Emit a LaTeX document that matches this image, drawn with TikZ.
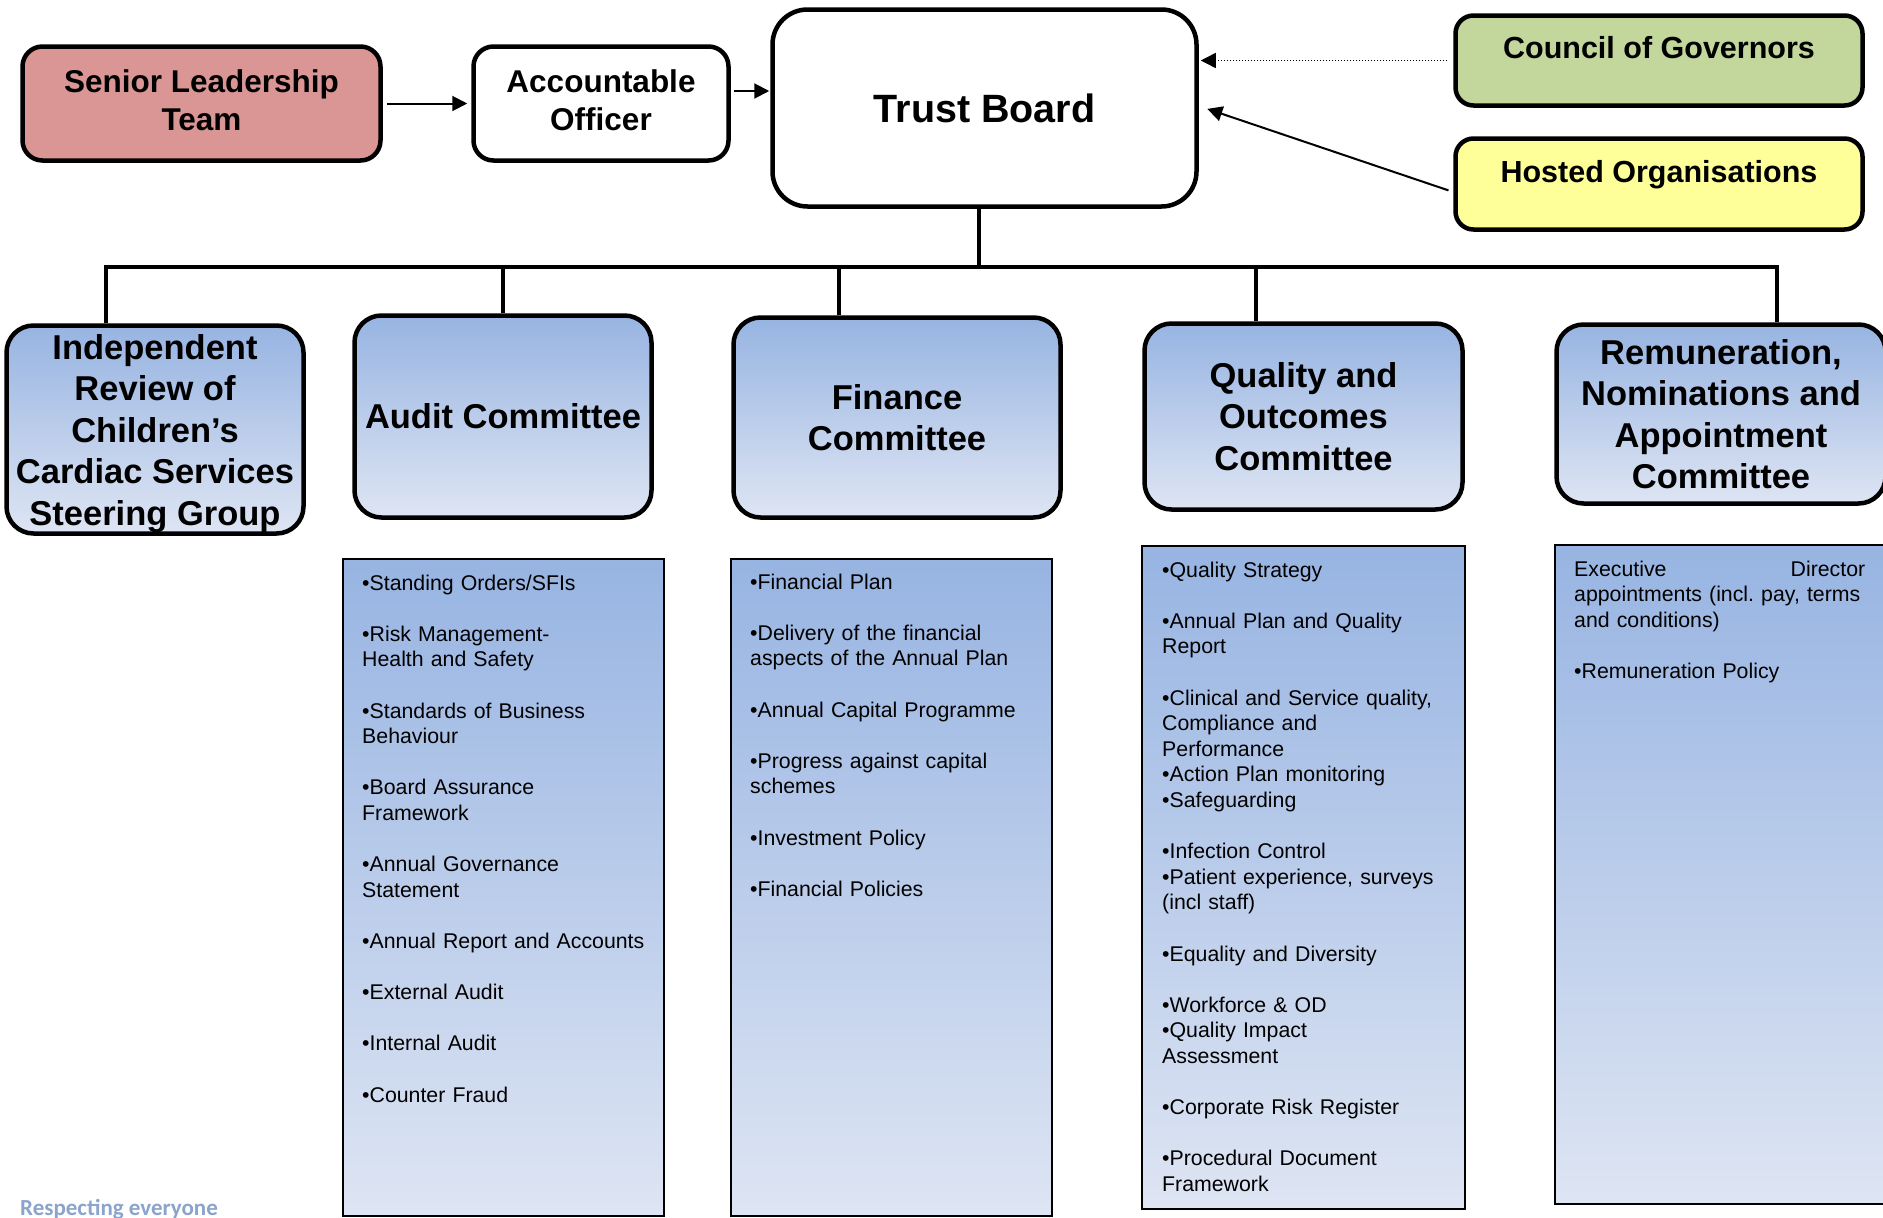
\documentclass[tikz,border=0pt]{standalone}
\usepackage{fontspec}
\setmainfont{Liberation Sans}
\newfontfamily\footfont{Carlito}
\usetikzlibrary{arrows.meta}
\definecolor{sltfill}{RGB}{217,150,148}
\definecolor{cogfill}{RGB}{195,214,155}
\definecolor{hofill}{RGB}{255,255,153}
\definecolor{blutop}{RGB}{151,180,226}
\definecolor{blubot}{RGB}{222,229,243}
\definecolor{footcol}{RGB}{138,164,204}
\begin{document}
\frenchspacing
\begin{tikzpicture}[x=1pt,y=-1pt,
  box/.style={draw, line width=4.5pt, rounded corners=20pt, align=center, inner sep=0pt},
  comm/.style={box, rounded corners=27pt, top color=blutop, bottom color=blubot,
    font=\bfseries\fontsize{34.5pt}{41.5pt}\selectfont},
  listbox/.style={draw, line width=1.5pt, top color=blutop, bottom color=blubot, inner sep=0pt},
  ltext/.style={anchor=north west, inner sep=0pt, align=left, text width=318pt,
    font=\fontsize{21.3pt}{25.6pt}\selectfont},
  conn/.style={line width=4.5pt},
  arr/.style={line width=2pt, -{Triangle[length=15pt,width=15pt]}},
  dotarr/.style={line width=1.5pt, dash pattern=on 1.5pt off 1.5pt, -{Triangle[length=15pt,width=15pt]}}
]
\useasboundingbox (0,0) rectangle (1883,1218);
\clip (0,0) rectangle (1883,1218);

% top row
\node[box, fill=sltfill, minimum width=358pt, minimum height=114pt, text depth=7pt,
  font=\bfseries\fontsize{31.5pt}{38.5pt}\selectfont] (slt) at (201.5,103.5) {Senior Leadership\\Team};
\node[box, fill=white, minimum width=255pt, minimum height=114pt, text depth=7pt,
  font=\bfseries\fontsize{31.5pt}{38.5pt}\selectfont] (ao) at (601,103.5) {Accountable\\Officer};
\node[box, fill=white, rounded corners=35pt, minimum width=424pt, minimum height=197pt,
  font=\bfseries\fontsize{39.5pt}{47pt}\selectfont] (tb) at (984.5,108) {Trust Board};
\node[box, fill=cogfill, rounded corners=18pt, minimum width=407pt, minimum height=90pt,
  text height=22pt, text depth=26pt,
  font=\bfseries\fontsize{30.5pt}{36pt}\selectfont] (cog) at (1659,60.5) {Council of Governors};
\node[box, fill=hofill, rounded corners=18pt, minimum width=407pt, minimum height=91pt,
  text height=22pt, text depth=26pt,
  font=\bfseries\fontsize{30.5pt}{36pt}\selectfont] (ho) at (1659,184) {Hosted Organisations};

% committees
\node[comm, minimum width=297pt, minimum height=208pt, text depth=0pt] (ind) at (155,429.5)
  {Independent\\Review of\\Children’s\\Cardiac Services\\Steering Group};
\node[comm, minimum width=297pt, minimum height=202pt] (aud) at (503,416.5) {Audit Committee};
\node[comm, minimum width=327pt, minimum height=200pt] (fin) at (897,417.5) {Finance\\Committee};
\node[comm, minimum width=318pt, minimum height=186pt] (qual) at (1303.5,416.5) {Quality and\\Outcomes\\Committee};
\node[comm, minimum width=329pt, minimum height=179pt] (rem) at (1721,414) {Remuneration,\\Nominations and\\Appointment\\Committee};

% arrows
\draw[arr, shorten <=4pt, shorten >=4pt] (slt.east) -- (ao.west);
\coordinate (aoout) at ([yshift=12.5pt]ao.east);
\draw[arr, shorten <=3pt, shorten >=1pt] (aoout) -- (aoout -| tb.west);
\draw[dotarr, shorten <=6pt, shorten >=2pt] (cog.west) -- (cog.west -| tb.east);
\coordinate (hoout) at ([yshift=-8pt]ho.west);
\coordinate (tbin) at ([yshift=2pt]tb.east);
\draw[arr, shorten <=5pt, shorten >=9pt] (hoout) -- (tbin);

% hierarchy
\coordinate (trunk) at (979,267);
\coordinate (barL) at (106,267);
\coordinate (barR) at (1777,267);
\coordinate (d2) at (503,267);
\coordinate (d3) at (839,267);
\coordinate (d4) at (1256,267);
\draw[conn] (trunk |- tb.south) -- (trunk);
\draw[conn] (barL |- ind.north) -- (barL) -- (barR) -- (barR |- rem.north);
\draw[conn] (d2) -- (d2 |- aud.north);
\draw[conn] (d3) -- (d3 |- fin.north);
\draw[conn] (d4) -- (d4 |- qual.north);

% lists
\node[listbox, minimum width=321pt, minimum height=657pt] (audl) at (503.5,887.5) {};
\node[listbox, minimum width=321pt, minimum height=657pt] (finl) at (891.5,887.5) {};
\node[listbox, minimum width=323pt, minimum height=663pt] (quall) at (1303.5,877.5) {};
\node[listbox, minimum width=335pt, minimum height=659pt] (reml) at (1722.5,874.5) {};

\node[ltext] (audt) at (362,572) {\strut •Standing Orders/SFIs\\[25.6pt]
•Risk Management-\\Health and Safety\\[25.6pt]
•Standards of Business\\Behaviour\\[25.6pt]
•Board Assurance\\Framework\\[25.6pt]
•Annual Governance\\Statement\\[25.6pt]
•Annual Report and Accounts\\[25.6pt]
•External Audit\\[25.6pt]
•Internal Audit\\[25.6pt]
•Counter Fraud};

\node[ltext] (fint) at (750,571) {\strut •Financial Plan\\[25.6pt]
•Delivery of the financial\\aspects of the Annual Plan\\[25.6pt]
•Annual Capital Programme\\[25.6pt]
•Progress against capital\\schemes\\[25.6pt]
•Investment Policy\\[25.6pt]
•Financial Policies};

\node[ltext] (qualt) at (1162,559) {\strut •Quality Strategy\\[25.6pt]
•Annual Plan and Quality\\Report\\[25.6pt]
•Clinical and Service quality,\\Compliance and\\Performance\\•Action Plan monitoring\\•Safeguarding\\[25.6pt]
•Infection Control\\•Patient experience, surveys\\(incl staff)\\[25.6pt]
•Equality and Diversity\\[25.6pt]
•Workforce \& OD\\•Quality Impact\\Assessment\\[25.6pt]
•Corporate Risk Register\\[25.6pt]
•Procedural Document\\Framework};

\node[ltext, text width=291pt] (remt) at (1574,558) {\strut Executive\hfill Director\\
\makebox[291pt][s]{appointments (incl. pay, terms}\\
and conditions)\\[25.6pt]
•Remuneration Policy};

\node[anchor=base west, inner sep=0pt, text=footcol,
  font=\footfont\bfseries\fontsize{23pt}{28pt}\selectfont] (foot) at (20,1215) {Respecting everyone};
\end{tikzpicture}
\end{document}
